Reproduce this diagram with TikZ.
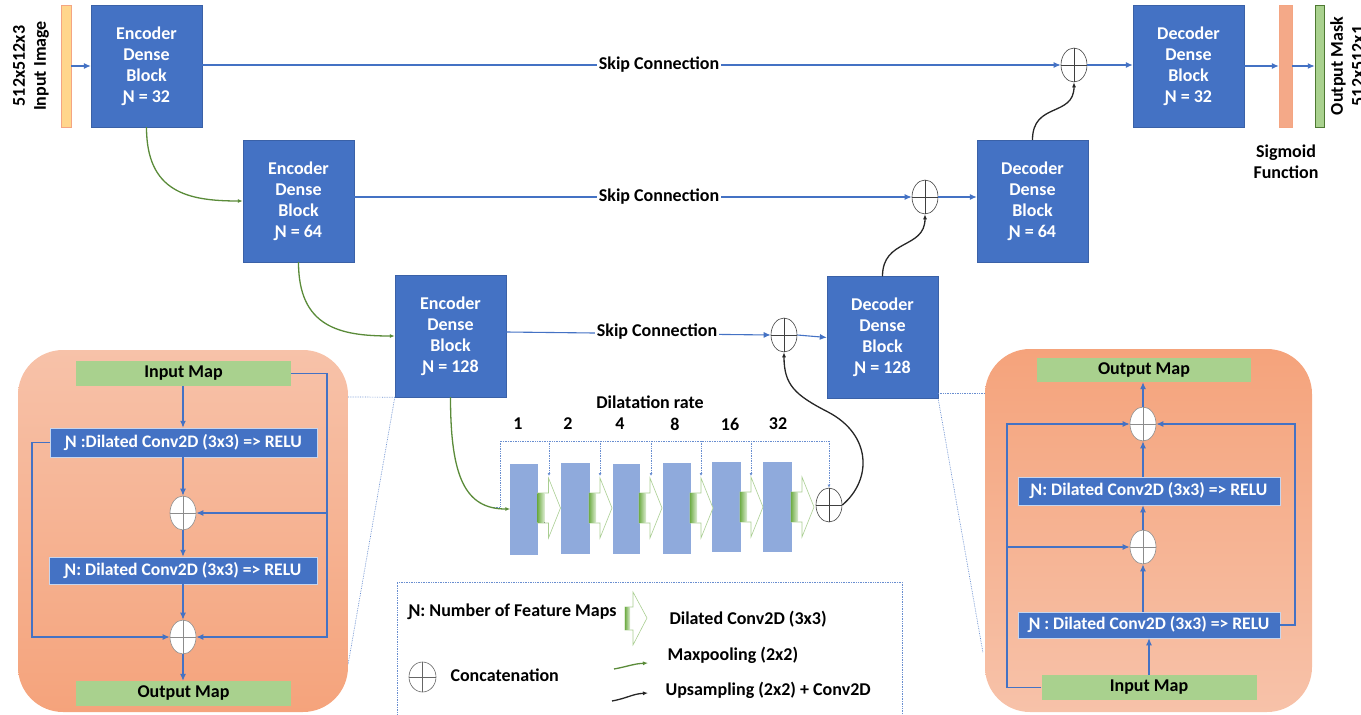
\documentclass[tikz,border=0pt]{standalone}
\usepackage{fontspec}
\setmainfont{Carlito}
\usetikzlibrary{arrows.meta,shapes.geometric,calc}
\definecolor{bblue}{HTML}{4472C4}
\definecolor{lblue}{HTML}{8FAADC}
\definecolor{lgreen}{HTML}{A9D18E}
\definecolor{dgreen}{HTML}{548235}
\definecolor{mgreen}{HTML}{70AD47}
\definecolor{salmon}{HTML}{F4A582}
\definecolor{peach}{HTML}{F7C2A9}
\definecolor{inyel}{HTML}{FFD68C}
\definecolor{curveblk}{HTML}{262626}
\newcommand\NN{Ɲ}
\newcommand\dilarrow[2]{%
  \filldraw[fill=white, draw=mgreen!60, line width=0.6pt] (#1,{#2-15}) -- ({#1+11},{#2-15}) -- ({#1+11},{#2-30}) -- ({#1+23},#2) -- ({#1+11},{#2+30}) -- ({#1+11},{#2+15}) -- (#1,{#2+15}) -- cycle;
  \fill[left color=mgreen, right color=lgreen!40] (#1,{#2-14.5}) rectangle ({#1+7},{#2+14.5});}
\begin{document}
\begin{tikzpicture}[x=1pt,y=-1pt,
  every node/.style={font=\bfseries\fontsize{18}{21}\selectfont},
  blk/.style={fill=bblue, draw=bblue!85!black, line width=0.4pt, text=white, align=center, minimum width=111pt, minimum height=122pt, inner sep=0pt},
  cat/.style={ellipse, minimum width=26pt, minimum height=34pt, inner sep=0pt, draw=#1, line width=0.6pt, fill=white,
     path picture={\draw[#1, line width=0.5pt] (path picture bounding box.north) -- (path picture bounding box.south) (path picture bounding box.west) -- (path picture bounding box.east);}},
  cat/.default={black!75},
  pcat/.style={cat=black!45},
  cbox/.style={fill=bblue, draw=white!70!bblue, line width=0.5pt, text=white, inner sep=0pt, minimum height=#1, font=\bfseries\fontsize{17.6}{21}\selectfont},
  gbox/.style={fill=lgreen, text=black, inner sep=0pt, minimum width=215pt, minimum height=25pt},
  arr/.style={draw=bblue, line width=1.1pt, -{Latex[length=7pt,width=6pt]}},
  mp/.style={draw=dgreen!80!mgreen, line width=1.3pt, -{Latex[length=5pt,width=4pt]}},
  up/.style={draw=curveblk, line width=1.3pt, -{Latex[length=5pt,width=4pt]}},
  dotl/.style={draw=bblue!80, line width=0.7pt, densely dotted},
  lbl/.style={fill=white, inner sep=2pt},
  sblk/.style={fill=lblue, draw=bblue!60, line width=0.5pt, inner sep=0pt},
]
\useasboundingbox (0,0) rectangle (1361,715);

% ---------- panels ----------
\path[rounded corners=45pt, top color=peach, bottom color=salmon!95!orange] (18,350) rectangle (348,712);
\path[rounded corners=45pt, top color=salmon!95!orange, bottom color=peach] (985,349) rectangle (1312,712);

% ---------- main row ----------
\node[fill=inyel, draw=salmon, line width=0.5pt, minimum width=10pt, minimum height=122pt, inner sep=0pt] (inp) at (66,66) {};
\node[rotate=90, align=center] (intxt) at (31,66) {512x512x3\\Input Image};
\node[blk] (e1) at (146.5,66) {Encoder\\Dense\\Block\\\NN{} = 32};
\node[blk] (e2) at (298.5,201) {Encoder\\Dense\\Block\\\NN{} = 64};
\node[blk] (e3) at (450.5,336) {Encoder\\Dense\\Block\\\NN{} = 128};
\node[blk] (d3) at (882.5,337.5) {Decoder\\Dense\\Block\\\NN{} = 128};
\node[blk] (d2) at (1032.5,201) {Decoder\\Dense\\Block\\\NN{} = 64};
\node[blk] (d1) at (1188.5,66) {Decoder\\Dense\\Block\\\NN{} = 32};
\node[cat] (c1) at (1074,65) {};
\node[cat] (c2) at (925,197) {};
\node[cat] (c3) at (784,335) {};
\node[fill=salmon!85!peach, draw=salmon, minimum width=13pt, minimum height=122pt, inner sep=0pt] (sig) at (1285.5,66) {};
\node[fill=lgreen, draw=mgreen!70!black, line width=0.5pt, minimum width=9pt, minimum height=122pt, inner sep=0pt] (outm) at (1319.5,66) {};
\node[rotate=90, align=center] (outtxt) at (1347,66) {Output Mask\\512x512x1};
\node[align=center] (sigtxt) at (1286,162) {Sigmoid\\Function};

\draw[arr] (inp.east) -- (e1.west |- inp.east);
\draw[arr] (e1.east |- c1.west) -- (c1.west);
\draw[arr] (c1.east) -- (d1.west |- c1.east);
\draw[arr] (d1.east |- sig.west) -- (sig.west);
\draw[arr] (sig.east) -- (outm.west);
\draw[arr] (e2.east |- c2.west) -- (c2.west);
\draw[arr] (c2.east) -- (d2.west |- c2.east);
\draw[arr] (e3.east |- 0,332) -- (c3.west);
\draw[arr] (c3.east) -- (d3.west);
\node[lbl] (s1) at (659,65) {Skip Connection};
\node[lbl] (s2) at (659,197) {Skip Connection};
\node[lbl] (s3) at (657,332) {Skip Connection};

% maxpooling / upsampling curves
\draw[mp] (e1.south) .. controls +(0,65) and +(-55,0) .. (e2.west);
\draw[mp] (e2.south) .. controls +(0,65) and +(-55,0) .. (e3.west);
\draw[up] (d2.north) .. controls +(0,-38) and +(0,35) .. (c1.south);
\draw[up] (d3.north) .. controls +(0,-38) and +(0,35) .. (c2.south);

% ---------- dilation ----------
\node (dr) at (650,402) {Dilatation rate};
\node[sblk, minimum width=27pt, minimum height=90pt] (b1) at (524,509) {};
\node[sblk, minimum width=28pt, minimum height=90pt] (b2) at (575,508) {};
\node[sblk, minimum width=26pt, minimum height=89pt] (b3) at (626,508.5) {};
\node[sblk, minimum width=27pt, minimum height=90pt] (b4) at (676.5,508) {};
\node[sblk, minimum width=28pt, minimum height=89pt] (b5) at (726,506.5) {};
\node[sblk, minimum width=28pt, minimum height=89pt] (b6) at (777,506.5) {};
\dilarrow{537.5}{508}
\dilarrow{589}{508}
\dilarrow{639}{508}
\dilarrow{690}{508}
\dilarrow{740}{507}
\dilarrow{791}{507}
\node[cat] (dc) at (829,505) {};
\node (r1) at (518,424) {1};
\node (r2) at (568,424) {2};
\node (r3) at (620,424) {4};
\node (r4) at (675,424) {8};
\node (r5) at (730,424) {16};
\node (r6) at (778,424) {32};

\coordinate (dtopL) at (500,441);
\coordinate (dtopR) at (829,441);
\draw[dotl] (494,507) -- (500,507) -- (dtopL) -- (dtopR);
\draw[dotl, -{Latex[length=3pt,width=3pt]}] (dtopR) -- (dc.north);
\foreach \xx in {549,600,651,701,751}{
  \draw[dotl, -{Latex[length=3pt,width=3pt]}] (\xx,441) -- (\xx,476);
}
\draw[mp] (e3.south) .. controls +(0,80) and +(-45,0) .. (b1.west);
\draw[up] (dc.east) .. controls (872,480) and (872,435) .. (828,412) .. controls (795,395) and (784,385) .. (c3.south);

% ---------- zoom lines ----------
\draw[dotl] (e3.south west) -- (348,397);
\draw[dotl] (e3.south west) -- (348,665);
\draw[dotl] (938,393) -- (985,393);
\draw[dotl] (d3.south east) -- (983,653);

% ---------- left panel ----------
\node[gbox] (lin) at (183.5,373.5) {Input Map};
\node[cbox=29pt, minimum width=267pt] (lc1) at (183.5,442.5) {\NN{} :Dilated Conv2D (3x3) => RELU};
\node[pcat] (lp1) at (183,513) {};
\node[cbox=27pt, minimum width=268pt] (lc2) at (183,570.5) {\NN{}: Dilated Conv2D (3x3) => RELU};
\node[pcat] (lp2) at (183,637) {};
\node[gbox] (lout) at (183.5,693.5) {Output Map};
\draw[arr] (lin.south -| lp1) -- (lc1.north -| lp1);
\draw[arr] (lc1.south -| lp1) -- (lp1.north);
\draw[arr] (lp1.south) -- (lc2.north -| lp1);
\draw[arr] (lc2.south -| lp1) -- (lp2.north);
\draw[arr] (lp2.south) -- (lout.north -| lp2);
\coordinate (lR) at (327,373.5);
\coordinate (lL) at (32,442.5);
\draw[arr] (lin.east) -- (lR) |- (lp2.east);
\draw[arr] (lR |- lp1.east) -- (lp1.east);
\draw[arr] (lc1.west) -- (lL) |- (lp2.west);

% ---------- right panel ----------
\node[gbox, minimum width=214pt, minimum height=24pt] (rout) at (1144,370) {Output Map};
\node[pcat] (rp2) at (1143,424) {};
\node[cbox=28pt, minimum width=262pt] (rc2) at (1149,491) {\NN{}: Dilated Conv2D (3x3) => RELU};
\node[pcat] (rp1) at (1143,547) {};
\node[cbox=26pt, minimum width=262pt] (rc1) at (1149,625) {\NN{} : Dilated Conv2D (3x3) => RELU};
\node[gbox] (rin) at (1149,687.5) {Input Map};
\draw[arr] (rin.north) -- (rc1.south -| rin.north);
\draw[arr] (rc1.north -| rp1) -- (rp1.south);
\draw[arr] (rp1.north) -- (rc2.south -| rp1);
\draw[arr] (rc2.north -| rp2) -- (rp2.south);
\draw[arr] (rp2.north) -- (rout.south -| rp2);
\coordinate (rL) at (1007,687.5);
\coordinate (rR) at (1295,625);
\draw[arr] (rin.west) -- (rL) |- (rp2.west);
\draw[arr] (rL |- rp1.west) -- (rp1.west);
\draw[arr] (rc1.east) -- (rR) |- (rp2.east);

% ---------- legend ----------
\draw[dotl] (397,740) -- (397,582) -- (902,582) -- (902,740);
\node[anchor=west] (lg1) at (405,612) {\NN{}: Number of Feature Maps};
\filldraw[fill=white, draw=mgreen!60, line width=0.6pt] (625,607) -- (633,607) -- (633,592) -- (647,618) -- (633,645) -- (633,630) -- (625,630) -- cycle;
\fill[left color=mgreen, right color=lgreen!40] (625,607.5) rectangle (630,629.5);
\node[anchor=west] (lg2) at (666,619) {Dilated Conv2D (3x3)};
\node[cat=black!60, minimum width=27pt, minimum height=30pt] (lgc) at (422.5,677) {};
\node[anchor=west] (lg3) at (447,675) {Concatenation};
\coordinate (mpa) at (614,669);
\coordinate (mpb) at (648,663);
\draw[mp] (mpa) .. controls (630,666) and (632,664) .. (mpb);
\node[anchor=west] (lg4) at (664,655) {Maxpooling (2x2)};
\coordinate (upa) at (612,701);
\coordinate (upb) at (648,693);
\draw[up] (upa) .. controls (628,698) and (632,694) .. (upb);
\node[anchor=west] (lg5) at (662,690) {Upsampling (2x2) + Conv2D};
\end{tikzpicture}
\end{document}
